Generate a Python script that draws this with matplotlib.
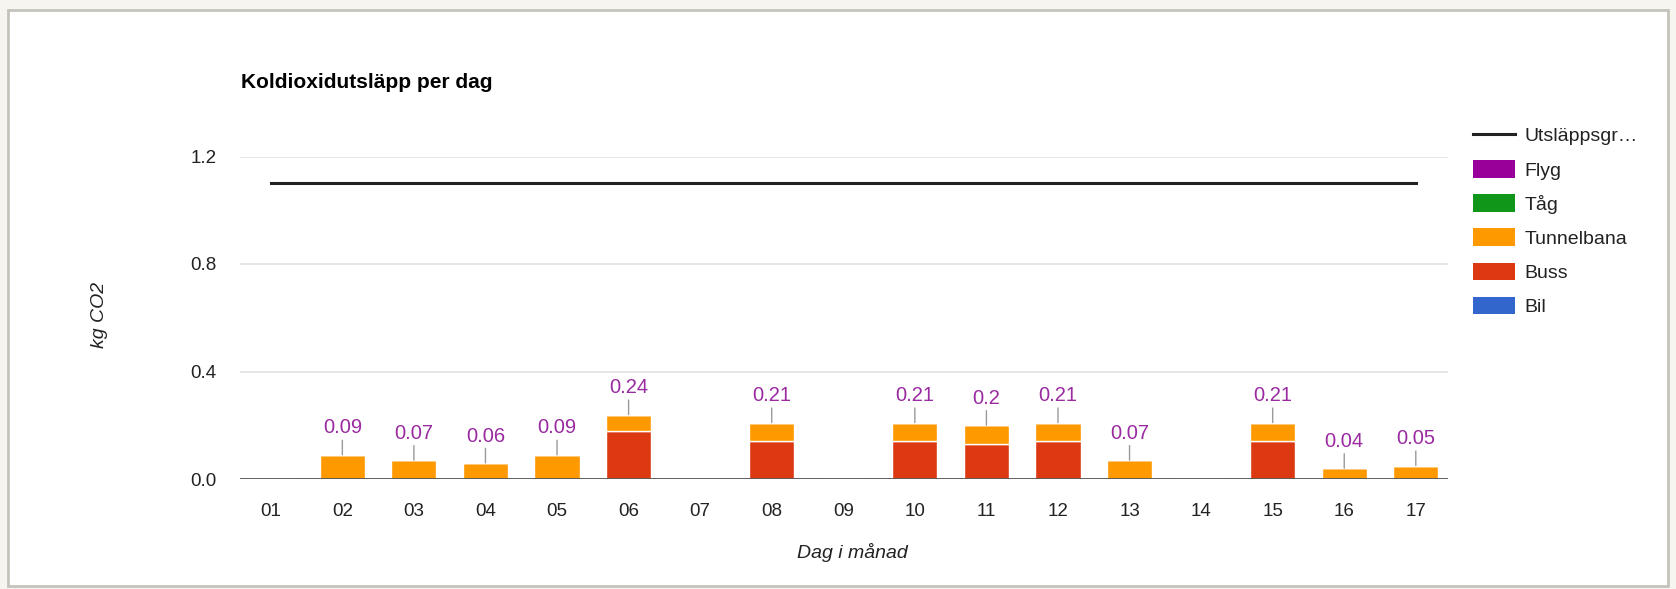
import matplotlib.pyplot as plt
from matplotlib.lines import Line2D
from matplotlib.patches import Patch, Rectangle
import numpy as np

plt.rcParams["font.family"] = ["Liberation Sans", "DejaVu Sans"]

# --- Data: kg CO2 per day and mode of transport ---
days = ["01", "02", "03", "04", "05", "06", "07", "08", "09",
        "10", "11", "12", "13", "14", "15", "16", "17"]
bil = [0, 0, 0, 0, 0, 0, 0, 0, 0, 0, 0, 0, 0, 0, 0, 0, 0]
buss = [0, 0, 0, 0, 0, 0.18, 0, 0.14, 0, 0.14, 0.13, 0.14, 0, 0, 0.14, 0, 0]
tunnelbana = [0, 0.09, 0.07, 0.06, 0.09, 0.06, 0, 0.07, 0, 0.07, 0.07, 0.07, 0.07, 0, 0.07, 0.04, 0.05]
tag = [0, 0, 0, 0, 0, 0, 0, 0, 0, 0, 0, 0, 0, 0, 0, 0, 0]
flyg = [0, 0, 0, 0, 0, 0, 0, 0, 0, 0, 0, 0, 0, 0, 0, 0, 0]
limit = [1.1] * len(days)

series = [
    ("Bil", bil, "#3366cc"),
    ("Buss", buss, "#dc3912"),
    ("Tunnelbana", tunnelbana, "#ff9900"),
    ("Tåg", tag, "#109618"),
    ("Flyg", flyg, "#990099"),
]

W, H = 1676, 589
fig = plt.figure(figsize=(W / 100, H / 100), dpi=100)
fig.patch.set_facecolor("#f7f5f0")

# white card with thin grey frame
fig.add_artist(Rectangle((8 / W, 3 / H), 1660 / W, 576 / H, transform=fig.transFigure,
                         facecolor="white", edgecolor="#c4c4bc", linewidth=2, zorder=0))

ax = fig.add_axes([240 / W, 1 - 479 / H, 1208 / W, (479 - 156.5) / H])
ax.set_facecolor("none")

x = np.arange(len(days))
bottom = np.zeros(len(days))
for name, vals, color in series:
    vals = np.array(vals, dtype=float)
    ax.bar(x, vals, width=0.63, bottom=bottom, color=color,
           edgecolor="white", linewidth=1, zorder=3)
    bottom += vals

# totals above the bars
for i, total in enumerate(bottom):
    if total <= 0:
        continue
    ax.annotate(f"{round(total, 2):g}", xy=(i, total), xytext=(0, 12.5),
                textcoords="offset points", ha="center", va="bottom",
                fontsize=14.5, color="#9a2aa0", zorder=5,
                arrowprops=dict(arrowstyle="-", color="#9a9a9a", lw=1,
                                shrinkA=0, shrinkB=0))

# emission limit
ax.plot(x, limit, color="#222222", linewidth=2.2, zorder=4)

ax.set_xlim(-0.43, 16.45)
ax.set_ylim(0, 1.2)
ax.set_yticks([0.0, 0.4, 0.8, 1.2])
ax.set_yticklabels(["0.0", "0.4", "0.8", "1.2"])
ax.set_xticks(x)
ax.set_xticklabels(days)
ax.tick_params(axis="both", length=0, labelsize=13.5, colors="#222222")
ax.tick_params(axis="y", pad=17)
ax.tick_params(axis="x", pad=17)
for sp in ax.spines.values():
    sp.set_visible(False)
ax.grid(axis="y", color="#e2e2e2", linewidth=1.2, zorder=0)
ax.axhline(0, color="#555555", linewidth=1.3, zorder=4)

fig.text(241 / W, 1 - 82 / H, "Koldioxidutsläpp per dag", fontsize=15,
         fontweight="bold", color="#000000", ha="left", va="center")
fig.text(99 / W, 1 - 315 / H, "kg CO2", rotation=90, fontsize=14,
         style="italic", color="#222222", ha="center", va="center")
fig.text(852 / W, 1 - 553 / H, "Dag i månad", fontsize=14,
         style="italic", color="#222222", ha="center", va="center")

handles = [Line2D([0], [0], color="#222222", linewidth=2.2)]
labels = ["Utsläppsgr…"]
for name, vals, color in reversed(series):
    handles.append(Patch(facecolor=color, edgecolor="none"))
    labels.append(name)
fig.legend(handles, labels, loc="upper left", bbox_to_anchor=(1473 / W, 1 - 126 / H),
           frameon=False, fontsize=14, handlelength=2.15, handleheight=1.0,
           labelspacing=0.76, handletextpad=0.5, borderpad=0, borderaxespad=0,
           labelcolor="#222222")

fig.savefig("out.png", dpi=100, facecolor=fig.get_facecolor())
